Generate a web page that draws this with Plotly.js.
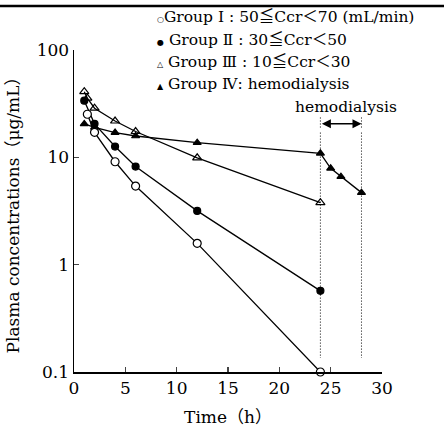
<!DOCTYPE html>
<html>
<head>
<meta charset="utf-8">
<script src="https://cdn.plot.ly/plotly-3.0.1.min.js"></script>
<style>html,body{margin:0;padding:0;background:#fff;}#chart{width:444px;height:432px;}</style>
</head>
<body>
<div id="chart"></div>
<script>
// ---- data ----
var timeI   = [1.3, 2, 4, 6, 12, 24];
var groupI  = [25.2, 17.1, 9.1, 5.4, 1.58, 0.1];

var timeII  = [1, 2, 4, 6, 12, 24];
var groupII = [33.7, 20.5, 12.6, 8.2, 3.17, 0.57];

var timeIII  = [1, 1.3, 2, 4, 6, 12, 24];
var groupIII = [40.9, 35.6, 28.7, 21.8, 17.4, 9.9, 3.78];

var timeIV  = [1, 2, 4, 6, 12, 24, 25, 26, 28];
var groupIV = [20.5, 19.0, 17.0, 15.8, 13.7, 10.9, 7.9, 6.6, 4.69];

var dialysisStart = 24, dialysisEnd = 28;
var dialysisLineTop = 17, dialysisLineBottom = 0.135, dialysisArrowY = 20.5;

var xTicks = [0, 5, 10, 15, 20, 25, 30];
var yTicks = [0.1, 1, 10, 100];
var yTickText = ['0.1', '1', '10', '100'];

var legendSymbols = ['○', '●', '△', '▲'];
var legendTexts = [
  'Group Ⅰ : 50≦Ccr＜70 (mL/min)',
  ' Group Ⅱ : 30≦Ccr＜50',
  ' Group Ⅲ : 10≦Ccr＜30',
  ' Group Ⅳ: hemodialysis'
];

// ---- chart ----
var serif = '"DejaVu Serif", "Liberation Serif", "Noto Sans CJK JP", serif';
var lineStyle = {color: '#000', width: 1.3};

function series(x, y, symbol, size) {
  return {
    x: x, y: y, type: 'scatter', mode: 'lines+markers', cliponaxis: false,
    line: lineStyle,
    marker: {symbol: symbol, size: size, color: '#000', line: {color: '#000', width: 1.2}},
    hoverinfo: 'x+y', showlegend: false
  };
}

var dotted = {color: '#000', width: 1, dash: '1px,2px'};
var traces = [
  {x: [dialysisStart, dialysisStart, null, dialysisEnd, dialysisEnd],
   y: [dialysisLineTop, dialysisLineBottom, null, dialysisLineTop, dialysisLineBottom],
   type: 'scatter', mode: 'lines', line: dotted, hoverinfo: 'skip', showlegend: false},
  {x: [dialysisStart, dialysisStart, null, dialysisEnd, dialysisEnd],
   y: [23.5, 18.5, null, 23.5, 18.5],
   type: 'scatter', mode: 'lines', line: dotted, hoverinfo: 'skip', showlegend: false},
  series(timeIV, groupIV, 'triangle-up', 7),
  series(timeIII, groupIII, 'triangle-up-open', 8),
  series(timeII, groupII, 'circle', 7),
  {x: timeI, y: groupI, type: 'scatter', mode: 'lines+markers', cliponaxis: false,
   line: lineStyle,
   marker: {symbol: 'circle', size: 8, color: '#fff', line: {color: '#000', width: 1.2}},
   hoverinfo: 'x+y', showlegend: false}
];

var py = function (p) { return (372 - p) / 322; };
var annotations = legendTexts.map(function (t, i) {
  return {text: '<span style="font-size:8px">' + legendSymbols[i] + '</span>' + t,
          xref: 'paper', yref: 'paper', x: (155 - 74) / 308,
          y: py([17, 40, 62, 84][i]), xanchor: 'left', yanchor: 'middle',
          showarrow: false, font: {family: serif, size: 15.5, color: '#000'}};
});
annotations.push({text: 'hemodialysis', xref: 'x', yref: 'y',
  x: (dialysisStart + dialysisEnd) / 2 + 0.5, y: Math.log10(29.5),
  xanchor: 'center', yanchor: 'middle', showarrow: false,
  font: {family: serif, size: 15.5, color: '#000'}});
annotations.push({text: '', xref: 'x', yref: 'y', axref: 'x', ayref: 'y',
  x: dialysisEnd, y: Math.log10(dialysisArrowY),
  ax: dialysisStart, ay: Math.log10(dialysisArrowY),
  showarrow: true, arrowhead: 2, startarrowhead: 2, arrowside: 'end+start',
  arrowsize: 1.2, arrowwidth: 1.5, arrowcolor: '#000', standoff: 0, startstandoff: 0});

var layout = {
  width: 444, height: 432,
  margin: {l: 74, r: 62, t: 50, b: 60},
  paper_bgcolor: '#fff', plot_bgcolor: '#fff',
  font: {family: serif, color: '#000'},
  xaxis: {
    range: [0, 30], tickvals: xTicks, ticks: 'inside', ticklen: 5, tickwidth: 1.2,
    showline: true, linecolor: '#000', linewidth: 1.5, showgrid: false, zeroline: false,
    tickfont: {family: serif, size: 17, color: '#000'},
    title: {text: 'Time（h）', font: {family: serif, size: 17, color: '#000'}, standoff: 14}
  },
  yaxis: {
    type: 'log', range: [-1, 2], tickvals: yTicks, ticktext: yTickText,
    ticks: 'inside', ticklen: 5, tickwidth: 1.2,
    showline: true, linecolor: '#000', linewidth: 1.5, showgrid: false, zeroline: false,
    tickfont: {family: serif, size: 17, color: '#000'},
    title: {text: 'Plasma concentrations（μg/mL）', font: {family: serif, size: 17, color: '#000'}, standoff: 12}
  },
  shapes: [{type: 'line', xref: 'paper', yref: 'paper', x0: -74 / 308, x1: 370 / 308,
            y0: py(6), y1: py(6), line: {color: '#000', width: 2.5}}],
  annotations: annotations
};

Plotly.newPlot('chart', traces, layout, {displayModeBar: false, staticPlot: true});
</script>
</body>
</html>
